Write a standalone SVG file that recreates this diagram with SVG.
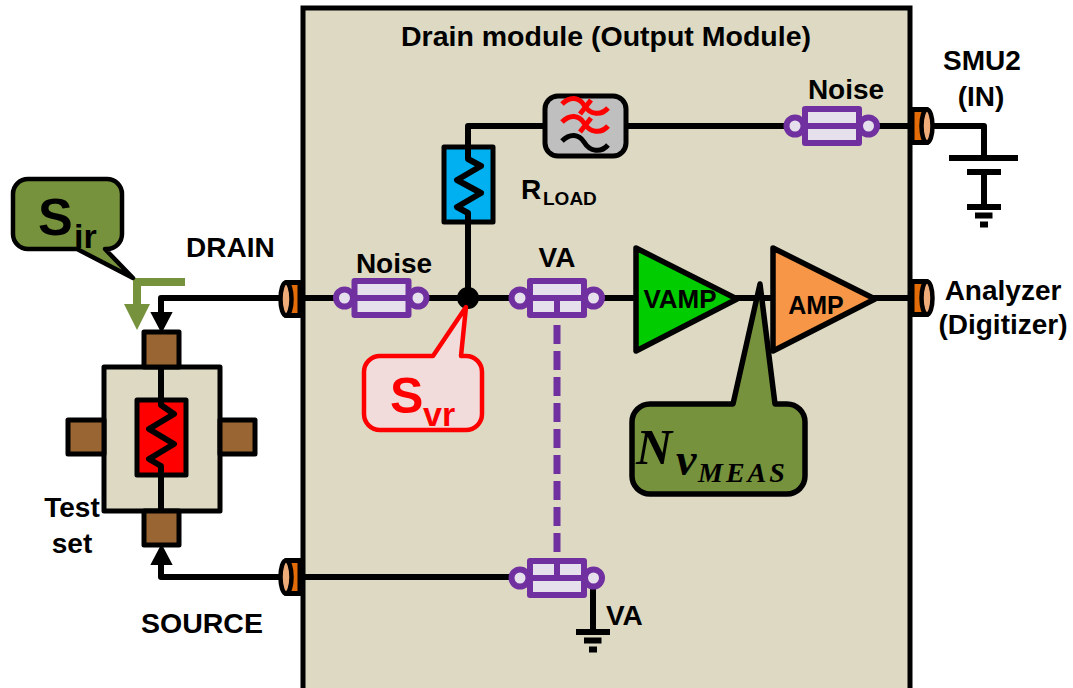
<svg xmlns="http://www.w3.org/2000/svg" width="1073" height="688" viewBox="0 0 1073 688">
<style>
text{font-family:"Liberation Sans",Arial,sans-serif;font-weight:700;fill:#000}
.t{font-size:28px}
.m{text-anchor:middle}
.w{fill:none;stroke:#000;stroke-width:6;stroke-linejoin:round}
.k{stroke:#000;stroke-width:5.500;stroke-linejoin:round}
.p{fill:#E6E0EC;stroke:#7030A0;stroke-width:6;stroke-linejoin:round}
.pl{fill:none;stroke:#7030A0;stroke-width:6}
.b{fill:#996633;stroke:#000;stroke-width:5;stroke-linejoin:round}
.n{font-family:"Liberation Serif",serif;font-style:italic;font-weight:700}
</style>
<defs>
<g id="portL"><path d="M-5-16.500H9V16.500H-5Z" fill="#E36C09" stroke="#000" stroke-width="5" stroke-linejoin="round"/><ellipse cx="-5" cy="0" rx="5.500" ry="16.500" fill="#F0AC78" stroke="#000" stroke-width="4.500"/></g>
<g id="portR"><path d="M-10-16.500H5V16.500H-10Z" fill="#E36C09" stroke="#000" stroke-width="5" stroke-linejoin="round"/><ellipse cx="5" cy="0" rx="5.500" ry="16.500" fill="#F0AC78" stroke="#000" stroke-width="4.500"/></g>
<g id="tube"><circle cx="-37" cy="0" r="8.500" class="p"/><circle cx="36.500" cy="0" r="8.500" class="p"/><rect x="-27" y="-17" width="54" height="34" class="p"/><path d="M-27 0H27" class="pl"/></g>
<g id="gnd"><path d="M-17 0H17M-9 8.500H8.500M-4 17.500H4" fill="none" stroke="#000" stroke-width="6"/></g>
<path id="wave" d="M562 104C570 96 579 97 584 105C590 115 601 116 608 108" fill="none" stroke-width="5"/>
</defs>

<g id="module"><rect x="303" y="8" width="607" height="684" fill="#DDD9C3" stroke="#000" stroke-width="5"/>
<text x="606" y="46" class="m" style="font-size:28.500px">Drain module (Output Module)</text></g>

<g id="connectors">
<path class="w" d="M320 298H830"/>
<path class="w" d="M161 313V298H281"/>
<path class="w" d="M161 564V577H281"/>
<path class="w" d="M303 298H330M303 577H510"/>
<path class="w" d="M468 298V126H790"/>
<path class="w" d="M600 298H640M870 298H912"/>
<path class="w" d="M870 126H912M930 126H984V158"/>
<path class="w" d="M593 585V632"/>
<path d="M152 313H171L161.500 331Z" fill="#000" stroke="#000" stroke-width="2"/>
<path d="M152 564H171L161.500 546Z" fill="#000" stroke="#000" stroke-width="2"/>
<path d="M557 325V552" fill="none" stroke="#7030A0" stroke-width="7" stroke-dasharray="19 7"/>
<path d="M185 282H137V305" fill="none" stroke="#76923C" stroke-width="8"/>
<path d="M124 304H150L137 330Z" fill="#76923C"/>
</g>

<g id="port-drain"><use href="#portL" x="291" y="299"/></g>
<g id="port-source"><use href="#portL" x="291" y="577"/></g>
<g id="port-smu"><use href="#portR" x="922" y="126"/></g>
<g id="port-analyzer"><use href="#portR" x="922" y="298"/></g>

<g id="test-set">
<rect x="104" y="367" width="116" height="144" fill="#DDD9C3" stroke="#000" stroke-width="5" stroke-linejoin="round"/>
<rect x="144" y="332" width="35" height="35" class="b"/>
<rect x="144" y="511" width="35" height="34" class="b"/>
<rect x="68" y="420" width="36" height="34" class="b"/>
<rect x="220" y="420" width="35" height="34" class="b"/>
<rect x="137" y="400" width="49" height="75" fill="#F00" stroke="#000" stroke-width="5" stroke-linejoin="round"/>
<path class="w" d="M161 367V405L174 414L149 429L174 444L149 459L161 466V511"/>
</g>

<g id="res-load">
<rect x="444" y="147" width="49" height="75" fill="#00B0F0" stroke="#000" stroke-width="5" stroke-linejoin="round"/>
<path class="w" d="M468 147V159L481 166L457 180L481 193L457 207L468 213V222V240"/>
</g>

<g id="filter">
<rect x="545" y="96" width="81" height="60" rx="13" fill="#BFBFBF" stroke="#000" stroke-width="5"/>
<use href="#wave" stroke="#F00"/><path d="M580 114L591 100" stroke="#F00" stroke-width="5" fill="none"/>
<use href="#wave" y="18" stroke="#F00"/><path d="M580 132L591 118" stroke="#F00" stroke-width="5" fill="none"/>
<use href="#wave" y="37" stroke="#000"/>
</g>

<g id="noise-top"><use href="#tube" x="832" y="126"/></g>
<g id="noise-mid"><use href="#tube" x="381.500" y="298"/></g>
<g id="va-top"><use href="#tube" x="557" y="298"/><path d="M557 298V317" class="pl"/></g>
<g id="va-bottom"><use href="#tube" x="557" y="578"/><path d="M557 561V578" class="pl"/></g>

<g id="junction"><circle cx="468" cy="298" r="11" fill="#000"/></g>
<g id="gnd-va"><use href="#gnd" x="593" y="632"/></g>
<g id="battery">
<path d="M949 158H1018M967 172H1001M984 172V207" fill="none" stroke="#000" stroke-width="6"/>
<use href="#gnd" x="984" y="207"/>
</g>

<g id="vamp"><path d="M636 248L737 299L636 351Z" fill="#0C0" class="k"/><text x="680" y="308" class="m" style="font-size:26px">VAMP</text></g>
<g id="amp"><path d="M773 248L875 299L773 351Z" fill="#F79646" class="k"/><text x="816" y="314" class="m" style="font-size:25px">AMP</text></g>

<g id="callout-nv">
<path d="M650 404H733L760 284L775 404H787A18 18 0 0 1 805 422V476A18 18 0 0 1 787 494H650A18 18 0 0 1 632 476V422A18 18 0 0 1 650 404Z" fill="#76923C" class="k"/>
<text x="636" y="464" class="n" style="font-size:50px">N</text>
<text x="676" y="475" class="n" style="font-size:46px">v</text>
<text x="698" y="482" class="n" style="font-size:28px;letter-spacing:3px">MEAS</text>
</g>

<g id="callout-svr">
<path d="M380 356H433L466 307L461 356H466A16 16 0 0 1 482 372V414A16 16 0 0 1 466 430H380A16 16 0 0 1 364 414V372A16 16 0 0 1 380 356Z" fill="#F2DCDB" stroke="#F00" stroke-width="4.500" stroke-linejoin="round"/>
<text x="390" y="413" style="font-size:50px;fill:#F00">S</text>
<text x="423" y="426" style="font-size:34px;fill:#F00">vr</text>
</g>

<g id="callout-sir">
<path d="M28 179H107A15 15 0 0 1 122 194V234A15 15 0 0 1 107 249H105L133 278L77 249H28A15 15 0 0 1 13 234V194A15 15 0 0 1 28 179Z" fill="#76923C" stroke="#000" stroke-width="4.500" stroke-linejoin="round"/>
<text x="38" y="235" style="font-size:52px">S</text>
<text x="74" y="248" style="font-size:34px">ir</text>
</g>

<g id="labels">
<text x="186" y="257" class="t">DRAIN</text>
<text x="141" y="633" style="font-size:28.500px">SOURCE</text>
<text x="72" y="517" class="m t">Test</text>
<text x="72" y="553" class="m t">set</text>
<text x="982" y="70" class="m t">SMU2</text>
<text x="981" y="106" class="m t">(IN)</text>
<text x="1003" y="300" class="m t">Analyzer</text>
<text x="1003" y="334" class="m t">(Digitizer)</text>
<text x="846" y="99" class="m t">Noise</text>
<text x="394" y="273" class="m t">Noise</text>
<text x="557" y="267" class="m t">VA</text>
<text x="606" y="625" class="t">VA</text>
<text x="521" y="199" class="t">R</text>
<text x="543" y="205" style="font-size:19px">LOAD</text>
</g>
</svg>
